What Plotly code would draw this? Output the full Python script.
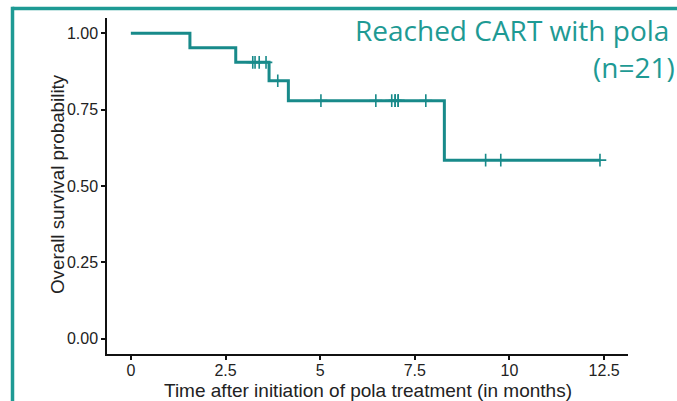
import numpy as np
import plotly.graph_objects as go

# Follow-up times (months) after starting pola, patients who reached CAR-T
event_times = [1.56, 2.77, 3.65, 4.16, 8.28]
censor_times = [3.22, 3.28, 3.39, 3.57, 3.88, 5.02, 6.47, 6.89, 6.98, 6.98,
                7.06, 7.06, 7.79, 9.37, 9.77, 12.39]

x_ticks = [0, 2.5, 5, 7.5, 10, 12.5]
x_tick_text = ["0", "2.5", "5", "7.5", "10", "12.5"]
y_ticks = [0, 0.25, 0.5, 0.75, 1.0]
y_tick_text = ["0.00", "0.25", "0.50", "0.75", "1.00"]

title_line1 = "Reached CART with pola"
title_line2 = "(n=21)"
x_title = "Time after initiation of pola treatment (in months)"
y_title = "Overall survival probability"

CURVE = "#188a8a"
ACCENT = "#1e9a94"

# Kaplan-Meier estimate
times = np.array(event_times + censor_times)
status = np.array([1] * len(event_times) + [0] * len(censor_times))
order = np.argsort(times, kind="stable")
times, status = times[order], status[order]

step_x, step_y = [0.0], [1.0]
surv = 1.0
for t in np.unique(times[status == 1]):
    at_risk = np.sum(times >= t)
    d = np.sum((times == t) & (status == 1))
    surv *= (at_risk - d) / at_risk
    step_x.append(t)
    step_y.append(surv)
step_x.append(times.max())
step_y.append(surv)


def surv_at(t):
    s = 1.0
    for xv, yv in zip(step_x, step_y):
        if xv <= t:
            s = yv
    return s


cens_y = [surv_at(t) for t in censor_times]

fig = go.Figure()
fig.add_trace(go.Scatter(
    x=step_x, y=step_y, mode="lines", line=dict(color=CURVE, width=3, shape="hv"),
    showlegend=False, hoverinfo="skip"))
fig.add_trace(go.Scatter(
    x=censor_times, y=cens_y, mode="markers",
    marker=dict(symbol="cross-thin", size=9, line=dict(color=CURVE, width=1.6)),
    showlegend=False))

L, R, T, B = 107, 49, 18, 47
W, H = 677, 401
pw, ph = W - L - R, H - T - B


def px_x(p):
    return (p - L) / pw


def px_y(p):
    return (H - B - p) / ph


axis_font = "Liberation Sans, Arial, sans-serif"
fig.update_layout(
    width=W, height=H, margin=dict(l=L, r=R, t=T, b=B),
    plot_bgcolor="white", paper_bgcolor="white",
    xaxis=dict(range=[-0.63, 13.13], tickvals=x_ticks, ticktext=x_tick_text,
               showgrid=False, zeroline=False, showline=True, linecolor="#111",
               linewidth=1.5, ticks="outside", ticklen=4, tickwidth=1.5,
               tickcolor="#111", ticklabelstandoff=-3,
               tickfont=dict(family=axis_font, size=16, color="#222")),
    yaxis=dict(range=[-0.05, 1.05], tickvals=y_ticks, ticktext=y_tick_text,
               showgrid=False, zeroline=False, showline=True, linecolor="#111",
               linewidth=1.5, ticks="outside", ticklen=4, tickwidth=1.5,
               tickcolor="#111",
               tickfont=dict(family=axis_font, size=16, color="#222")),
    font=dict(family=axis_font),
)

# Frame lines around the panel
fig.add_shape(type="line", xref="paper", yref="paper",
              x0=px_x(12.5), x1=px_x(W + 10), y0=px_y(8.5), y1=px_y(8.5),
              line=dict(color=ACCENT, width=3.5))
fig.add_shape(type="line", xref="paper", yref="paper",
              x0=px_x(12.5), x1=px_x(12.5), y0=px_y(6.8), y1=px_y(H + 10),
              line=dict(color=ACCENT, width=3.5))

title_font = dict(family="Open Sans, Lato, sans-serif", size=28, color=ACCENT)
fig.add_annotation(text=title_line1, xref="paper", yref="paper",
                   x=px_x(671), y=px_y(30), xanchor="right", yanchor="middle",
                   showarrow=False, font=title_font)
fig.add_annotation(text=title_line2, xref="paper", yref="paper",
                   x=px_x(677), y=px_y(67), xanchor="right", yanchor="middle",
                   showarrow=False, font=title_font)

fig.add_annotation(text=x_title, xref="paper", yref="paper",
                   x=px_x(368), y=px_y(390.5), xanchor="center", yanchor="middle",
                   showarrow=False, font=dict(family=axis_font, size=19, color="#222"))
fig.add_annotation(text=y_title, xref="paper", yref="paper",
                   x=px_x(57), y=px_y(184), xanchor="center", yanchor="middle",
                   textangle=-90, showarrow=False,
                   font=dict(family=axis_font, size=18.8, color="#222"))

fig.write_html("out.html")
